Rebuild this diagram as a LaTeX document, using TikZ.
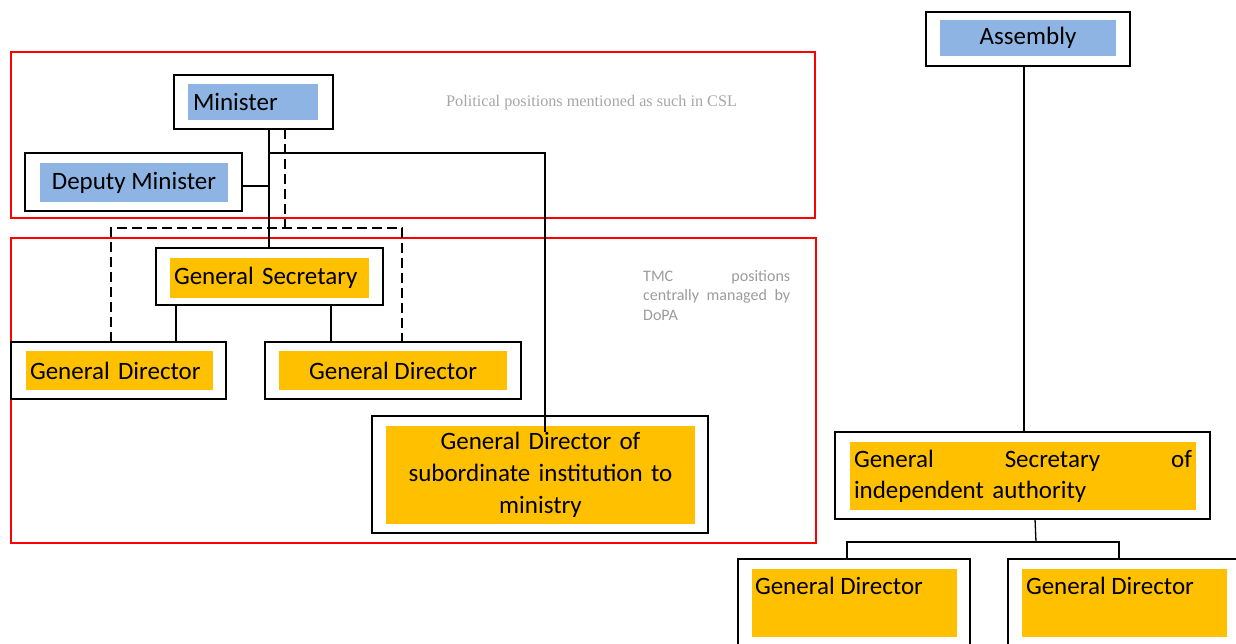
\documentclass[tikz,border=0pt]{standalone}
\usepackage{fontspec}
\setmainfont{Carlito}
\newfontfamily\timesgray{Liberation Serif}
\definecolor{cblue}{RGB}{141,180,226}
\definecolor{corange}{RGB}{255,192,0}
\definecolor{cred}{RGB}{255,0,0}
\definecolor{cgray}{RGB}{166,166,166}
\definecolor{cgrayb}{RGB}{155,155,155}
\begin{document}
\begin{tikzpicture}[x=1pt,y=-1pt,
  outerbox/.style={draw=black, line width=1.5pt, anchor=north west, inner sep=0pt, outer sep=0pt},
  fillbox/.style={anchor=north west, inner sep=0pt, outer sep=0pt, font=\fontsize{25}{32}\selectfont},
  bluebox/.style={fillbox, fill=cblue},
  orangebox/.style={fillbox, fill=corange},
  redframe/.style={draw=cred, line width=1.6pt},
  conn/.style={draw=black, line width=1.3pt},
  dashconn/.style={draw=black, line width=1.3pt, dash pattern=on 10pt off 5pt},
  note/.style={anchor=north west, inner sep=0pt, text=cgray}
]
\useasboundingbox (0,0) rectangle (1236,644);
\clip (0,0) rectangle (1236,644);

% red frames
\draw[redframe] (11,52) rectangle (815,218);
\draw[redframe] (11,238) rectangle (816,543);

% notes
\node[note, font=\timesgray\fontsize{16.2}{19}\selectfont] (pol) at (446,95) {Political positions mentioned as such in CSL};
\node[note, text=cgrayb, font=\fontsize{16}{19.7}\selectfont, align=left] (tmc) at (643,270)
  {\hbox to 147pt{TMC\hfill positions}\\\hbox to 147pt{centrally\hfill managed\hfill by}\\DoPA};

% boxes
\node[outerbox, minimum width=159pt, minimum height=54pt] (min) at (174,75) {};
\node[bluebox, minimum width=130pt, minimum height=36pt, text width=120pt, align=left] (minT) at (188,84) {Minister};

\node[outerbox, minimum width=217pt, minimum height=58pt] (dep) at (25,153) {};
\node[bluebox, minimum width=188pt, minimum height=39pt, align=center] (depT) at (40,163) {Deputy Minister};

\node[outerbox, minimum width=227pt, minimum height=57pt] (gs) at (156,248) {};
\node[orangebox, minimum width=199pt, minimum height=40pt, text width=191pt, align=left] (gsT) at (170,258) {General Secretary};

\node[outerbox, minimum width=215pt, minimum height=57pt] (gdl) at (11,342) {};
\node[orangebox, minimum width=187pt, minimum height=39pt, text width=179pt, align=left] (gdlT) at (26,351) {General Director};

\node[outerbox, minimum width=256pt, minimum height=57pt] (gdr) at (265,342) {};
\node[orangebox, minimum width=228pt, minimum height=39pt, align=center] (gdrT) at (279,351) {General Director};

\node[outerbox, minimum width=336pt, minimum height=117pt] (sub) at (372,416) {};
\node[orangebox, minimum width=309pt, minimum height=98pt, text width=300pt, align=center] (subT) at (386,426) {General Director of\\subordinate institution to\\ministry};

\node[outerbox, minimum width=204pt, minimum height=54pt] (asm) at (926,12) {};
\node[bluebox, minimum width=176pt, minimum height=36pt, align=center] (asmT) at (940,20) {Assembly};

\node[outerbox, minimum width=375pt, minimum height=87pt] (gsi) at (835,432) {};
\node[orangebox, minimum width=346pt, minimum height=68pt, text width=338pt, align=left, font=\fontsize{25}{31}\selectfont] (gsiT) at (850,442) {\hbox to 338pt{General\hfill Secretary\hfill of}\\independent authority};

\node[outerbox, minimum width=232pt, minimum height=120pt] (gdb1) at (738,559) {};
\node[orangebox, minimum width=205pt, minimum height=68pt] (gdb1F) at (752,569) {};
\node[fillbox, anchor=base west] (gdb1T) at (755,594) {General Director};

\node[outerbox, minimum width=240pt, minimum height=120pt] (gdb2) at (1008,559) {};
\node[orangebox, minimum width=205pt, minimum height=68pt] (gdb2F) at (1022,569) {};
\node[fillbox, anchor=base west] (gdb2T) at (1026,594) {General Director};

% helper coordinates
\coordinate (v0) at (269,0);
\coordinate (k) at (545,153);
\coordinate (kend) at (545,432);
\coordinate (dy) at (0,186);
\coordinate (d0) at (285,228);
\coordinate (dl) at (111,228);
\coordinate (dr) at (402,228);
\coordinate (c1) at (176,0);
\coordinate (c2) at (331,0);
\coordinate (a0) at (1024,0);
\coordinate (g0) at (1035,0);
\coordinate (b) at (1036,542);
\coordinate (bl) at (847,542);
\coordinate (br) at (1119,542);

% solid connectors
\draw[conn] (min.south -| v0) -- (gs.north -| v0);
\draw[conn] (dep.east |- dy) -- (dy -| v0);
\draw[conn] (k -| v0) -- (k) -- (kend);
\draw[conn] (gs.south -| c1) -- (gdl.north -| c1);
\draw[conn] (gs.south -| c2) -- (gdr.north -| c2);

% dashed connectors
\draw[dashconn] (min.south -| d0) -- (d0);
\draw[dashconn] (gdl.north -| dl) -- (dl) -- (dr) -- (gdr.north -| dr);

% right part
\draw[conn] (asm.south -| a0) -- (gsi.north -| a0);
\draw[conn] (gsi.south -| g0) -- (b);
\draw[conn] (gdb1.north -| bl) -- (bl) -- (br) -- (gdb2.north -| br);
\end{tikzpicture}
\end{document}
